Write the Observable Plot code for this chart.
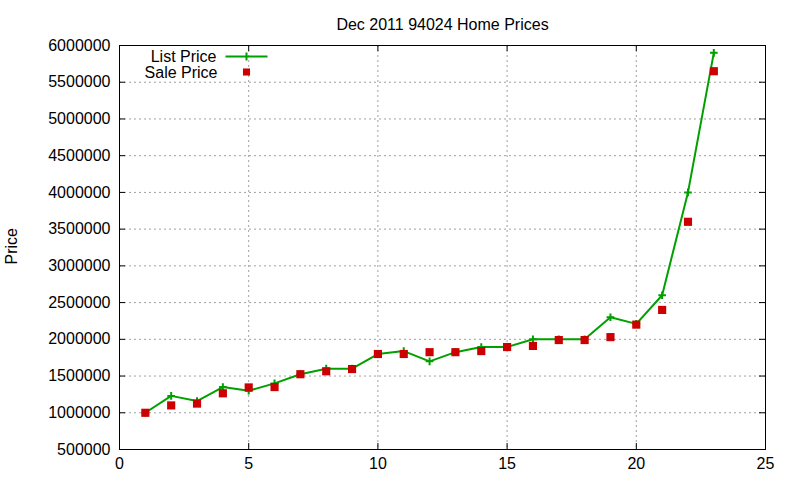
<!DOCTYPE html>
<html>
<head>
<meta charset="utf-8">
<script src="https://cdn.jsdelivr.net/npm/d3@7"></script>
<script src="https://cdn.jsdelivr.net/npm/@observablehq/plot@0.6"></script>
<style>
  html, body { margin: 0; padding: 0; background: #fff; }
</style>
</head>
<body>
<div id="chart"></div>
<script>
const title = "Dec 2011 94024 Home Prices";
const yLabel = "Price";
const seriesNames = ["List Price", "Sale Price"];
const xValues = [1,2,3,4,5,6,7,8,9,10,11,12,13,14,15,16,17,18,19,20,21,22,23];
const listPrice = [1000000,1230000,1160000,1350000,1300000,1400000,1525000,1600000,1600000,1800000,1840000,1700000,1825000,1895000,1895000,2000000,2000000,2000000,2300000,2210000,2600000,4000000,5900000];
const salePrice = [1000000,1100000,1125000,1265000,1345000,1350000,1525000,1565000,1595000,1800000,1800000,1825000,1825000,1840000,1895000,1910000,1990000,1990000,2030000,2200000,2400000,3600000,5650000];
const xTicks = [0,5,10,15,20,25];
const yTicks = [500000,1000000,1500000,2000000,2500000,3000000,3500000,4000000,4500000,5000000,5500000,6000000];

const data = xValues.map((x, i) => ({x, list: listPrice[i], sale: salePrice[i]}));

const W = 800, H = 480, mL = 119, mR = 35, mT = 45, mB = 31;
const pw = W - mL - mR, ph = H - mT - mB, tk = 6;
const green = "#00a000", red = "#cc0000";
const font = "'Liberation Sans', Arial, sans-serif";

const legendLine = {
  draw(ctx) {
    ctx.moveTo(-21, 0); ctx.lineTo(21, 0);
    ctx.moveTo(0, -4); ctx.lineTo(0, 4);
  }
};

const chart = Plot.plot({
  width: W, height: H,
  marginLeft: mL, marginRight: mR, marginTop: mT, marginBottom: mB,
  style: {fontFamily: font, fontSize: "16px", background: "#fff", color: "#000", overflow: "visible"},
  x: {domain: [0, 25]},
  y: {domain: [500000, 6000000]},
  marks: [
    Plot.gridX(xTicks, {stroke: "#a0a0a0", strokeOpacity: 1, strokeDasharray: "2,3"}),
    Plot.gridY(yTicks, {stroke: "#a0a0a0", strokeOpacity: 1, strokeDasharray: "2,3"}),
    Plot.axisX(xTicks, {tickSize: 0, tickPadding: 8, fontSize: 16, tickFormat: d3.format("d"), label: null}),
    Plot.axisY(yTicks, {tickSize: 0, tickPadding: 9, fontSize: 16, tickFormat: d3.format("d"), label: null}),
    // inward tick marks on all four sides
    Plot.tickY(yTicks, {y: d => d, stroke: "#000", insetRight: pw - tk}),
    Plot.tickY(yTicks, {y: d => d, stroke: "#000", insetLeft: pw - tk}),
    Plot.tickX(xTicks, {x: d => d, stroke: "#000", insetTop: ph - tk}),
    Plot.tickX(xTicks, {x: d => d, stroke: "#000", insetBottom: ph - tk}),
    Plot.frame({stroke: "#000"}),
    Plot.line(data, {x: "x", y: "list", stroke: green, strokeWidth: 2}),
    Plot.dot(data, {x: "x", y: "list", symbol: "plus", r: 2.6, stroke: green, strokeWidth: 2}),
    Plot.dot(data, {x: "x", y: "sale", symbol: "square", r: 4.6, fill: red, stroke: null}),
    // title and y label
    Plot.text([title], {text: d => d, frameAnchor: "top", dy: -27, fontSize: 16}),
    Plot.text([yLabel], {text: d => d, frameAnchor: "left", dx: -108, dy: 17, rotate: -90, fontSize: 16}),
    // legend
    Plot.text([seriesNames[0]], {text: d => d, frameAnchor: "top-left", textAnchor: "end", dx: 97, dy: 5.5, fontSize: 16}),
    Plot.text([seriesNames[1]], {text: d => d, frameAnchor: "top-left", textAnchor: "end", dx: 98, dy: 21, fontSize: 16}),
    Plot.dot([0], {frameAnchor: "top-left", dx: 127, dy: 11, symbol: legendLine, stroke: green, strokeWidth: 2, fill: "none"}),
    Plot.dot([0], {frameAnchor: "top-left", dx: 127, dy: 26.5, symbol: "square", r: 4, fill: red, stroke: null})
  ]
});
document.getElementById("chart").appendChild(chart);
</script>
</body>
</html>
